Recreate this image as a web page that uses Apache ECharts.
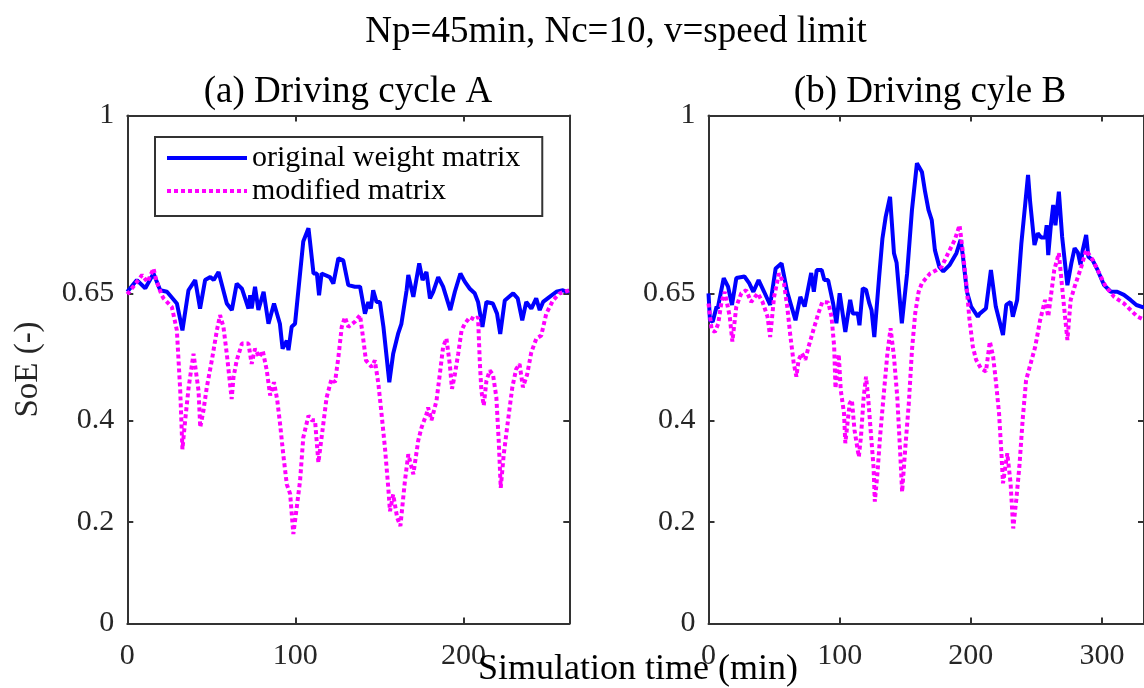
<!DOCTYPE html>
<html>
<head>
<meta charset="utf-8">
<script src="https://cdn.jsdelivr.net/npm/echarts@6/dist/echarts.min.js"></script>
<style>
  html, body { margin: 0; padding: 0; background: #fff; }
  #chart { width: 1144px; height: 688px; }
</style>
</head>
<body>
<div id="chart"></div>
<script>
// ---------- Data ----------
const mainTitle = 'Np=45min, Nc=10, v=speed limit';
const subTitles = ['(a) Driving cycle A', '(b) Driving cyle B'];
const xLabel = 'Simulation time (min)';
const yLabel = 'SoE (-)';
const seriesNames = ['original weight matrix', 'modified matrix'];
const yTicks = [0, 0.2, 0.4, 0.65, 1];
const xMaxA = 263;
const xMaxB = 332;

// Driving cycle A - original weight matrix
const tA_orig = [0,5.7,10.7,15.6,19.6,23.6,29.5,32.8,36.4,40.4,43.3,46.3,49.4,51.4,54.3,59.2,62.2,65.1,68.2,72.1,73.1,74.0,76.0,78.0,81.1,84.0,87.3,90.8,92.4,94.9,95.9,97.8,99.8,104.7,107.8,108.6,110.8,112.8,114.1,115.6,120.5,122.6,125.6,128.5,131.5,135.4,138.5,141.4,143.4,144.9,146.3,148.3,150.3,152.4,155.9,158.2,161.1,163.1,166.2,167.2,170.2,173.7,175.7,178.0,180.1,182.0,185.0,187.9,192.2,194.9,198.2,200.8,203.8,206.7,208.7,211.3,213.7,217.5,220.0,221.9,224.6,229.6,232.3,235.0,237.4,240.4,243.3,245.4,247.4,251.3,255.3,259.2,261.2,263];
const vA_orig = [0.653,0.676,0.660,0.689,0.656,0.653,0.630,0.577,0.656,0.676,0.620,0.676,0.682,0.676,0.692,0.630,0.617,0.669,0.659,0.620,0.646,0.620,0.663,0.617,0.653,0.590,0.630,0.590,0.541,0.557,0.538,0.584,0.590,0.752,0.778,0.755,0.689,0.689,0.646,0.689,0.682,0.669,0.719,0.715,0.666,0.663,0.663,0.610,0.633,0.620,0.656,0.633,0.633,0.584,0.475,0.531,0.570,0.590,0.656,0.686,0.643,0.709,0.676,0.692,0.640,0.653,0.682,0.663,0.617,0.653,0.689,0.673,0.659,0.650,0.633,0.584,0.633,0.630,0.610,0.570,0.636,0.650,0.640,0.597,0.633,0.620,0.640,0.617,0.633,0.643,0.653,0.656,0.653,0.655];

// Driving cycle A - modified matrix
const tA_mod = [0,4,8.8,12,15.6,17.2,20.5,21.6,26.5,29.5,31.5,32.8,34.4,36.5,39.4,40.4,42.4,43.4,45.3,47.3,50.3,53.3,55.2,57.2,59.2,60.7,62.1,63.2,65.1,68.2,72.1,74.0,76.0,78.5,80.6,83.0,85.0,87.3,89.2,90.9,92.8,94.9,96.9,98.8,100.8,102.8,104.7,107.8,109.8,111.7,113.7,115.6,118.6,121.5,123.6,125.6,127.6,129.5,131.5,135.4,138.5,140.5,142.0,145.4,147.3,149.4,151.3,153.3,155.3,156.3,158.2,160.6,162.5,165.2,167.2,170.2,173.1,175.1,178.0,179.0,181.0,184.0,186.0,187.9,189.9,191.9,193.2,194.9,196.9,198.9,200.8,203.8,206.7,208.7,209.8,210.7,212.1,213.7,215.7,217.6,219.6,221.0,222.2,224.0,226.5,229.1,231.4,233.4,235.4,237.9,240.4,243.4,246.3,249.3,253.3,257.3,260.2,263];
const vA_mod = [0.648,0.665,0.686,0.672,0.699,0.676,0.646,0.640,0.623,0.577,0.458,0.343,0.399,0.465,0.531,0.531,0.458,0.386,0.419,0.465,0.518,0.577,0.607,0.584,0.531,0.485,0.442,0.485,0.518,0.551,0.551,0.511,0.541,0.524,0.537,0.498,0.449,0.475,0.440,0.393,0.333,0.274,0.255,0.176,0.228,0.281,0.366,0.409,0.400,0.400,0.317,0.366,0.445,0.481,0.475,0.524,0.584,0.603,0.584,0.594,0.607,0.557,0.518,0.505,0.518,0.472,0.412,0.346,0.267,0.221,0.254,0.208,0.192,0.281,0.333,0.294,0.360,0.386,0.412,0.425,0.400,0.439,0.492,0.544,0.561,0.510,0.462,0.490,0.531,0.577,0.590,0.603,0.598,0.603,0.511,0.458,0.429,0.478,0.498,0.490,0.445,0.360,0.267,0.333,0.399,0.465,0.501,0.511,0.465,0.490,0.534,0.561,0.567,0.610,0.636,0.650,0.653,0.656];

// Driving cycle B - original weight matrix
const tB_orig = [0,1.1,3.2,6.2,7,11.6,14.9,17.9,21.2,27.4,31,34.2,38.2,42.4,47,51.2,55.7,60,66.3,70,73.3,78.3,80.3,82.5,86.3,88.3,91.2,95,97.5,100,104.3,108,110,113.8,115.1,117.6,120.1,122.6,124.3,126.4,130.1,132.6,135.1,138.4,139.4,141.4,143.4,147.4,151.4,155.1,158.9,160.2,162.7,165.1,167.7,170.2,172.6,176,179,183.9,189,192.2,194,197,200.2,205.3,206.8,211.5,215.3,219,224.5,227,230.3,232,235.3,238.5,241.5,243.6,245.2,248.5,251,253.6,256.6,257.8,259,261,262.8,264.5,267.1,269.6,273.6,276.6,279.1,281.6,283.6,285.3,287.9,289.6,292.9,296.6,301.6,306.7,311.6,316.7,321.7,326.2,332];
const vB_orig = [0.650,0.597,0.594,0.624,0.620,0.680,0.663,0.627,0.680,0.683,0.670,0.653,0.676,0.653,0.627,0.699,0.709,0.653,0.597,0.643,0.624,0.690,0.653,0.696,0.696,0.676,0.676,0.630,0.591,0.650,0.574,0.637,0.610,0.610,0.587,0.660,0.657,0.630,0.617,0.564,0.683,0.758,0.801,0.840,0.840,0.729,0.710,0.591,0.689,0.814,0.906,0.906,0.889,0.850,0.814,0.794,0.735,0.702,0.693,0.706,0.729,0.755,0.722,0.653,0.624,0.604,0.610,0.620,0.696,0.624,0.568,0.627,0.633,0.604,0.637,0.748,0.827,0.883,0.830,0.745,0.768,0.760,0.760,0.784,0.725,0.784,0.824,0.784,0.850,0.761,0.666,0.709,0.739,0.730,0.706,0.735,0.765,0.722,0.715,0.696,0.666,0.653,0.653,0.647,0.637,0.627,0.622];

// Driving cycle B - modified matrix
const tB_mod = [0,2.4,4.9,7.4,9.9,12.4,16.2,18.2,21.2,25,28.7,32.5,37.5,41.2,45,47,50,53.7,57.5,60,62.5,65,67,68.7,71.2,73.8,76.3,80,83.8,86.8,91.3,93.8,95.8,96.8,99.3,100.8,103.3,104.3,107.6,109.3,111.3,114.6,116.3,118.3,120.1,121.7,123.8,125.8,126.8,128.8,130.8,133.9,136.4,138.8,141.4,143.9,145.9,147.6,150.1,152.7,155.1,157.6,160.2,162.7,168.9,173.9,177.7,182.7,187.7,191.4,194,196.5,198.9,201.5,204,207.7,211.5,214.5,217,219,221.5,223.3,224.5,227.8,230.3,232.3,234.6,237,239.5,242.1,245.3,249.1,252.8,256.6,259,260.3,263.6,267.1,270.3,273.6,276.1,279.1,284.2,287.9,292.9,297.9,302.9,309.2,316.7,324.2,327,332];
const vB_mod = [0.630,0.578,0.574,0.590,0.633,0.653,0.604,0.555,0.624,0.650,0.656,0.633,0.650,0.633,0.604,0.564,0.643,0.689,0.670,0.624,0.564,0.512,0.486,0.519,0.532,0.519,0.545,0.578,0.611,0.633,0.632,0.604,0.545,0.463,0.530,0.460,0.414,0.355,0.433,0.440,0.381,0.328,0.370,0.446,0.486,0.445,0.374,0.309,0.240,0.296,0.368,0.460,0.532,0.581,0.525,0.446,0.348,0.259,0.348,0.433,0.538,0.611,0.653,0.670,0.689,0.696,0.702,0.729,0.755,0.784,0.729,0.670,0.600,0.545,0.519,0.502,0.496,0.555,0.525,0.479,0.414,0.335,0.276,0.335,0.276,0.187,0.243,0.309,0.401,0.479,0.509,0.545,0.597,0.637,0.604,0.630,0.696,0.729,0.643,0.558,0.637,0.663,0.702,0.735,0.716,0.689,0.663,0.643,0.630,0.611,0.604,0.598];

// ---------- Chart ----------
const FONT = 'Liberation Serif';
const AX = '#333333';
const zip = (t, v) => t.map((x, i) => [x, v[i]]);

const grids = [
  { left: 127.3, top: 115.5, width: 442, height: 508 },
  { left: 708.5, top: 115.5, width: 442, height: 508 }
];
const xMax = [xMaxA, xMaxB];

function xAxisCfg(g, pos) {
  const bottom = pos === 'bottom';
  return {
    type: 'value', gridIndex: g, position: pos, min: 0, max: xMax[g], interval: 100,
    axisLine: { show: true, onZero: false, lineStyle: { color: AX, width: 2 } },
    axisTick: { show: true, inside: true, length: 6, lineStyle: { color: AX, width: 2 } },
    axisLabel: { show: bottom, showMaxLabel: false, fontFamily: FONT, fontSize: 30, color: '#262626', margin: 18 },
    splitLine: { show: false }
  };
}
function yAxisCfg(g, pos) {
  const left = pos === 'left';
  const cfg = {
    type: 'value', gridIndex: g, position: pos, min: 0, max: 1,
    axisLine: { show: true, onZero: false, lineStyle: { color: AX, width: 2 } },
    axisTick: { show: true, inside: true, length: 6, customValues: yTicks, lineStyle: { color: AX, width: 2 } },
    axisLabel: { show: left, customValues: yTicks, fontFamily: FONT, fontSize: 30, color: '#262626', margin: 13,
                 formatter: v => String(v) },
    splitLine: { show: false }
  };
  if (left && g === 0) {
    cfg.name = yLabel;
    cfg.nameLocation = 'middle';
    cfg.nameGap = 82;
    cfg.nameTextStyle = { fontFamily: FONT, fontSize: 33, color: '#262626' };
  }
  return cfg;
}

const lineOrig = { color: '#0000FF', width: 4, type: 'solid' };
const lineMod = { color: '#FF00FF', width: 4, type: [4, 3], cap: 'butt' };

function mkSeries(name, g, t, v, ls) {
  return {
    name: name, type: 'line', xAxisIndex: g, yAxisIndex: g,
    data: zip(t, v), symbol: 'none', showSymbol: false, smooth: false,
    color: ls.color, lineStyle: ls, clip: true, animation: false
  };
}

const titleStyle = (size) => ({ fontFamily: FONT, fontSize: size, fontWeight: 'normal', color: '#000' });

const option = {
  animation: false,
  backgroundColor: '#fff',
  title: [
    { text: mainTitle, left: 616, top: 14, textAlign: 'center', textStyle: titleStyle(37), padding: 0 },
    { text: subTitles[0], left: 348, top: 74, textAlign: 'center', textStyle: titleStyle(37), padding: 0 },
    { text: subTitles[1], left: 930, top: 74, textAlign: 'center', textStyle: titleStyle(37), padding: 0 },
    { text: xLabel, left: 638, top: 652, textAlign: 'center', textStyle: titleStyle(36), padding: 0 }
  ],
  legend: {
    orient: 'vertical', left: 155, top: 137,
    padding: [6, 22, 10, 10], itemGap: 3, itemWidth: 80, itemHeight: 30,
    borderColor: AX, borderWidth: 2, backgroundColor: '#fff',
    itemStyle: { opacity: 0 },
    lineStyle: { width: 4 },
    textStyle: { fontFamily: FONT, fontSize: 30, color: '#000' },
    data: seriesNames
  },
  grid: grids,
  xAxis: [xAxisCfg(0, 'bottom'), xAxisCfg(1, 'bottom'), xAxisCfg(0, 'top'), xAxisCfg(1, 'top')],
  yAxis: [yAxisCfg(0, 'left'), yAxisCfg(1, 'left'), yAxisCfg(0, 'right'), yAxisCfg(1, 'right')],
  series: [
    mkSeries(seriesNames[0], 0, tA_orig, vA_orig, lineOrig),
    mkSeries(seriesNames[1], 0, tA_mod, vA_mod, lineMod),
    mkSeries(seriesNames[0], 1, tB_orig, vB_orig, lineOrig),
    mkSeries(seriesNames[1], 1, tB_mod, vB_mod, lineMod)
  ]
};

const chart = echarts.init(document.getElementById('chart'), null, { renderer: 'canvas' });
chart.setOption(option);
</script>
</body>
</html>
